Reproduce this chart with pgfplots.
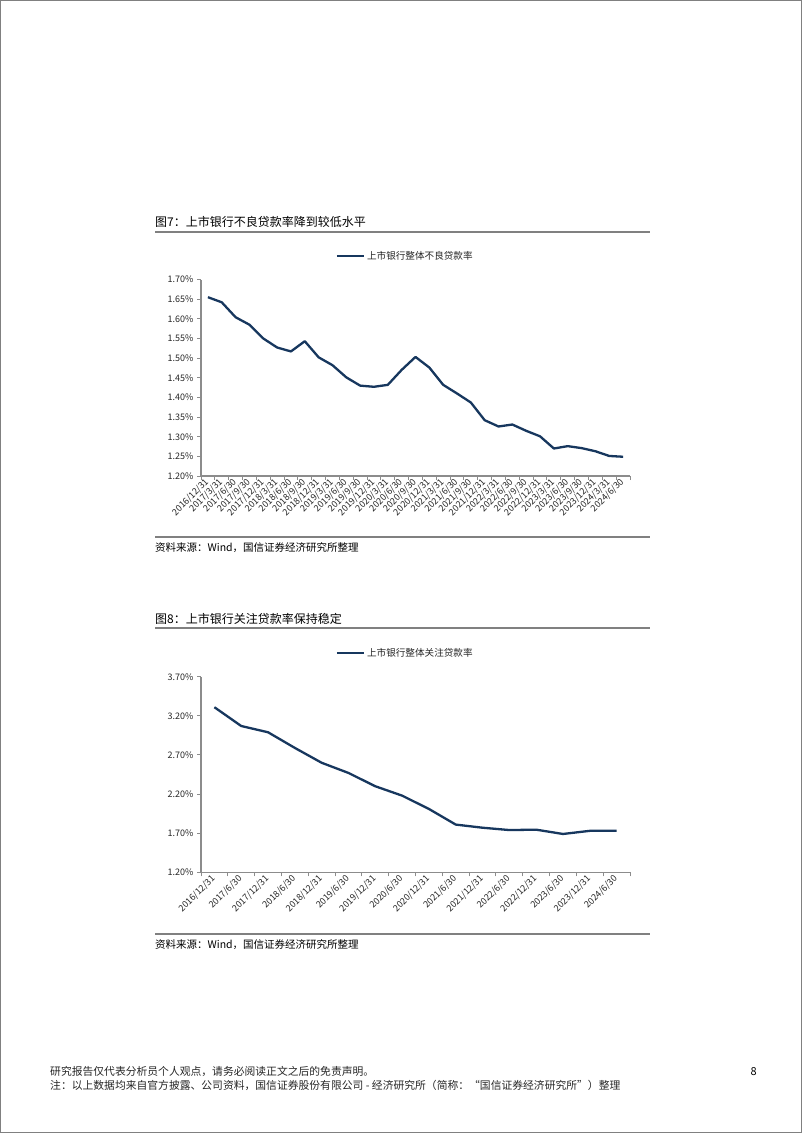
\documentclass[border=0pt]{standalone}
\usepackage{pgfplots}
\pgfplotsset{compat=1.18}
\usepackage{fontspec}
\setmainfont{Noto Sans CJK SC}
\definecolor{navy}{RGB}{23,55,94}
\definecolor{axgray}{RGB}{140,140,140}
\definecolor{rulegray}{RGB}{128,128,128}
\newcommand{\fs}[1]{\fontsize{#1}{#1}\selectfont}
\pgfplotsset{
  pagechart/.style={
    scale only axis, width=429pt, anchor=south west,
    axis lines*=left,
    axis line style={draw=axgray, line width=1.3pt},
    tick align=outside,
    major tick length=4pt, minor tick length=4pt,
    tick style={draw=axgray, line width=1pt},
    major x tick style={draw=none},
    xticklabel style={rotate=45, anchor=east, font=\fs{9pt}, text=black!85, inner sep=1pt},
    yticklabel style={font=\fs{9pt}, text=black!85},
    legend style={draw=none, fill=none, font=\fs{9.6pt}, text=black!85},
    legend image code/.code={\draw[##1] (0pt,0pt) -- (27pt,0pt);},
  },
  dataline/.style={color=navy, line width=2.3pt, line join=round, mark=none},
}
\begin{document}
\begin{tikzpicture}[x=1pt,y=1pt]
\useasboundingbox (0pt,0pt) rectangle (802pt,-1133pt);
\draw[rulegray, line width=1.2pt, fill=white] (0.6pt,-0.6pt) rectangle (801.4pt,-1132.4pt);

% ---- figure 7
\node[anchor=west, font=\fs{12pt}, inner sep=0pt] at (155pt,-222pt) {图7：上市银行不良贷款率降到较低水平};
\draw[rulegray, line width=1.6pt] (155pt,-232pt) -- (650pt,-232pt);
\begin{axis}[pagechart, at={(201pt,-476pt)}, height=196.5pt,
  xmin=-0.5, xmax=30.5, ymin=1.2, ymax=1.7,
  xtick={0,...,30},
  minor xtick={-0.5,0.5,...,30.5},
  xticklabels={2016/12/31,2017/3/31,2017/6/30,2017/9/30,2017/12/31,2018/3/31,2018/6/30,2018/9/30,2018/12/31,2019/3/31,2019/6/30,2019/9/30,2019/12/31,2020/3/31,2020/6/30,2020/9/30,2020/12/31,2021/3/31,2021/6/30,2021/9/30,2021/12/31,2022/3/31,2022/6/30,2022/9/30,2022/12/31,2023/3/31,2023/6/30,2023/9/30,2023/12/31,2024/3/31,2024/6/30},
  ytick={1.20,1.25,1.30,1.35,1.40,1.45,1.50,1.55,1.60,1.65,1.70},
  yticklabels={1.20\%,1.25\%,1.30\%,1.35\%,1.40\%,1.45\%,1.50\%,1.55\%,1.60\%,1.65\%,1.70\%},
  legend style={at={(0.476,1.12)}, anchor=center},
]
\addplot[dataline] coordinates {
(0,1.655) (1,1.642) (2,1.604) (3,1.585) (4,1.550) (5,1.527) (6,1.517) (7,1.543)
(8,1.502) (9,1.482) (10,1.451) (11,1.430) (12,1.427) (13,1.432) (14,1.470) (15,1.503)
(16,1.476) (17,1.432) (18,1.410) (19,1.387) (20,1.342) (21,1.326) (22,1.331) (23,1.315)
(24,1.301) (25,1.270) (26,1.276) (27,1.271) (28,1.263) (29,1.251) (30,1.249)};
\addlegendentry{上市银行整体不良贷款率}
\end{axis}
\draw[rulegray, line width=1.1pt] (155pt,-537pt) -- (650pt,-537pt);
\node[anchor=west, font=\fs{10.5pt}, inner sep=0pt] at (155pt,-548pt) {资料来源：Wind，国信证券经济研究所整理};

% ---- figure 8
\node[anchor=west, font=\fs{12pt}, inner sep=0pt] at (155pt,-619pt) {图8：上市银行关注贷款率保持稳定};
\draw[rulegray, line width=1.6pt] (155pt,-628pt) -- (650pt,-628pt);
\begin{axis}[pagechart, at={(201pt,-872.3pt)}, height=195.6pt,
  xmin=-0.5, xmax=15.5, ymin=1.2, ymax=3.7,
  xtick={0,...,15},
  minor xtick={-0.5,0.5,...,15.5},
  xticklabels={2016/12/31,2017/6/30,2017/12/31,2018/6/30,2018/12/31,2019/6/30,2019/12/31,2020/6/30,2020/12/31,2021/6/30,2021/12/31,2022/6/30,2022/12/31,2023/6/30,2023/12/31,2024/6/30},
  ytick={1.20,1.70,2.20,2.70,3.20,3.70},
  yticklabels={1.20\%,1.70\%,2.20\%,2.70\%,3.20\%,3.70\%},
  legend style={at={(0.476,1.121)}, anchor=center},
]
\addplot[dataline] coordinates {
(0,3.31) (1,3.07) (2,2.99) (3,2.79) (4,2.60) (5,2.47) (6,2.30) (7,2.18)
(8,2.01) (9,1.81) (10,1.77) (11,1.74) (12,1.745) (13,1.69) (14,1.73) (15,1.73)};
\addlegendentry{上市银行整体关注贷款率}
\end{axis}
\draw[rulegray, line width=1.1pt] (155pt,-934pt) -- (650pt,-934pt);
\node[anchor=west, font=\fs{10.5pt}, inner sep=0pt] at (155pt,-945pt) {资料来源：Wind，国信证券经济研究所整理};

% ---- footer
\node[anchor=west, font=\fs{10.8pt}, inner sep=0pt, text=black!85] at (50pt,-1071pt) {研究报告仅代表分析员个人观点，请务必阅读正文之后的免责声明。};
\node[anchor=west, font=\fs{10.8pt}, inner sep=0pt, text=black!85] at (50pt,-1085pt) {注：以上数据均来自官方披露、公司资料，国信证券股份有限公司 - 经济研究所（简称：“国信证券经济研究所”）整理};
\node[anchor=east, font=\fs{11pt}, inner sep=0pt] at (757pt,-1072pt) {8};
\end{tikzpicture}
\end{document}
